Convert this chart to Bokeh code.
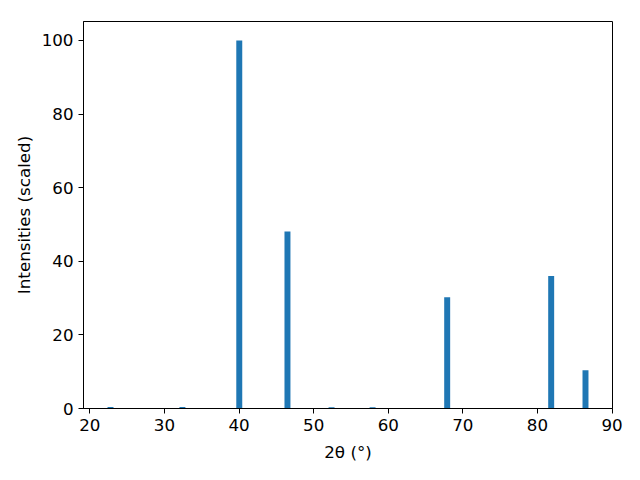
from bokeh.plotting import figure
from bokeh.models import ColumnDataSource, Range1d, FixedTicker
from bokeh.embed import file_html
from bokeh.resources import INLINE

two_theta = [22.77, 32.41, 40.03, 46.49, 52.4, 57.9, 67.9, 81.84, 86.44]
intensity = [0.4, 0.4, 100.0, 48.1, 0.35, 0.35, 30.2, 36.0, 10.4]
x_ticks = [20, 30, 40, 50, 60, 70, 80, 90]
y_ticks = [0, 20, 40, 60, 80, 100]

src = ColumnDataSource(dict(x=two_theta, top=intensity))

p = figure(width=640, height=480, output_backend="svg", toolbar_location=None,
           x_range=Range1d(19.15, 90.06), y_range=Range1d(0, 105.15),
           min_border_left=83, min_border_right=28, min_border_top=21, min_border_bottom=72)

p.vbar(x="x", top="top", bottom=0, width=0.8, source=src, color="#1f77b4", line_color=None)

p.xgrid.visible = False
p.ygrid.visible = False
p.outline_line_color = "black"
p.outline_line_alpha = 1.0
p.outline_line_width = 1
p.background_fill_color = "white"
p.border_fill_color = "white"

for ax in (p.xaxis[0], p.yaxis[0]):
    ax.axis_line_color = "black"
    ax.major_tick_line_color = "black"
    ax.major_tick_out = 5
    ax.major_tick_in = 0
    ax.minor_tick_line_color = None
    ax.major_label_text_font = "DejaVu Sans"
    ax.major_label_text_font_size = "16.7px"
    ax.major_label_text_color = "black"
    ax.axis_label_text_font = "DejaVu Sans"
    ax.axis_label_text_font_size = "16.7px"
    ax.axis_label_text_font_style = "normal"
    ax.axis_label_text_color = "black"

p.xaxis.ticker = FixedTicker(ticks=x_ticks)
p.yaxis.ticker = FixedTicker(ticks=y_ticks)
p.xaxis.axis_label = "2θ (°)"
p.yaxis.axis_label = "Intensities (scaled)"
p.xaxis.major_label_standoff = 5
p.yaxis.major_label_standoff = 5
p.xaxis.axis_label_standoff = 8
p.yaxis.axis_label_standoff = 5

open("out.html", "w").write(file_html(p, INLINE))
